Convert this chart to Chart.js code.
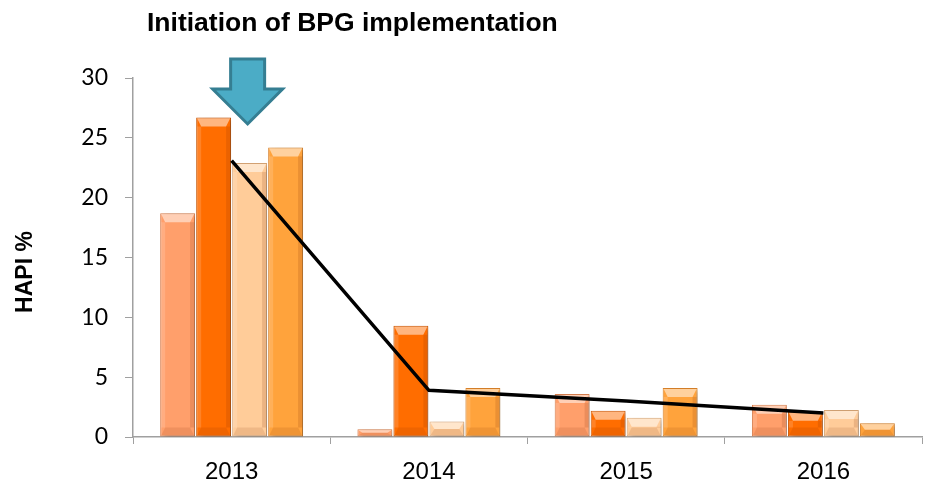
<!DOCTYPE html>
<html>
<head>
<meta charset="utf-8">
<script src="https://cdn.jsdelivr.net/npm/chart.js@4"></script>
<style>
  html, body { margin: 0; padding: 0; background: #fff; }
  #wrap { width: 928px; height: 485px; position: relative; }
</style>
</head>
<body>
<div id="wrap"><canvas id="c"></canvas></div>
<script>
const years = ['2013', '2014', '2015', '2016'];
const series1 = [18.7, 0.65, 3.6, 2.7];
const series2 = [26.7, 9.3, 2.2, 2.1];
const series3 = [22.9, 1.3, 1.6, 2.25];
const series4 = [24.2, 4.1, 4.1, 1.15];
const trend = [23.1, 3.9, 3.0, 2.0];
const yTicks = [0, 5, 10, 15, 20, 25, 30];

const titleText = 'Initiation of BPG implementation';
const yTitle = 'HAPI %';

const barFill = ['#FF9F6B', '#FF6D00', '#FFCC99', '#FFA33C'];
const barEdge = ['#D9804F', '#C95500', '#D9A777', '#D9822A'];

// shadow under the bars
const shadowPlugin = {
  id: 'barShadow',
  beforeDatasetDraw(chart, args) {
    if (args.meta.type !== 'bar') return;
    const ctx = chart.ctx;
    ctx.save();
    ctx.shadowColor = 'rgba(0,0,0,0.28)';
    ctx.shadowBlur = 5;
    ctx.shadowOffsetX = 3;
    ctx.shadowOffsetY = 2;
  },
  afterDatasetDraw(chart, args) {
    if (args.meta.type !== 'bar') return;
    chart.ctx.restore();
  }
};

// bevel look on every bar
const bevelPlugin = {
  id: 'bevel',
  afterDatasetDraw(chart, args) {
    if (args.meta.type !== 'bar') return;
    const ctx = chart.ctx;
    args.meta.data.forEach((bar) => {
      const p = bar.getProps(['x', 'y', 'base', 'width'], true);
      const l = p.x - p.width / 2, r = p.x + p.width / 2;
      const t = Math.min(p.y, p.base), b = Math.max(p.y, p.base);
      const h = b - t;
      const dt = Math.min(9, h / 2);
      const ds = Math.min(4, p.width / 4);
      ctx.save();
      // top
      ctx.fillStyle = 'rgba(255,255,255,0.5)';
      ctx.beginPath();
      ctx.moveTo(l + 1, t + 1); ctx.lineTo(r - 1, t + 1);
      ctx.lineTo(r - ds - 1, t + dt); ctx.lineTo(l + ds + 1, t + dt);
      ctx.closePath(); ctx.fill();
      // bottom
      ctx.fillStyle = 'rgba(120,40,0,0.12)';
      ctx.beginPath();
      ctx.moveTo(l + 1, b - 1); ctx.lineTo(r - 1, b - 1);
      ctx.lineTo(r - ds - 1, b - dt); ctx.lineTo(l + ds + 1, b - dt);
      ctx.closePath(); ctx.fill();
      // sides
      ctx.fillStyle = 'rgba(255,255,255,0.15)';
      ctx.fillRect(l + 1, t + dt, ds, h - 2 * dt);
      ctx.fillStyle = 'rgba(120,40,0,0.15)';
      ctx.fillRect(r - ds - 1, t + dt, ds, h - 2 * dt);
      ctx.restore();
    });
  }
};

// title, y title and the arrow
const extrasPlugin = {
  id: 'extras',
  afterDraw(chart) {
    const ctx = chart.ctx;
    const area = chart.chartArea;
    ctx.save();
    ctx.fillStyle = '#000';
    ctx.font = 'bold 26.5px "Liberation Sans", Arial, sans-serif';
    ctx.textBaseline = 'alphabetic';
    ctx.textAlign = 'left';
    ctx.fillText(titleText, 147, 31);

    ctx.translate(26, 272);
    ctx.rotate(-Math.PI / 2);
    ctx.textAlign = 'center';
    ctx.textBaseline = 'middle';
    ctx.font = 'bold 23px "Liberation Sans", Arial, sans-serif';
    ctx.fillText(yTitle, 0, 0);
    ctx.restore();

    // arrow pointing down at 2013
    const cx = chart.scales.x.getPixelForValue(0) + 16;
    const top = area.top - 19, neck = area.top + 11, tip = area.top + 46;
    ctx.save();
    ctx.beginPath();
    ctx.moveTo(cx - 17, top);
    ctx.lineTo(cx + 17, top);
    ctx.lineTo(cx + 17, neck);
    ctx.lineTo(cx + 35, neck);
    ctx.lineTo(cx, tip);
    ctx.lineTo(cx - 35, neck);
    ctx.lineTo(cx - 17, neck);
    ctx.closePath();
    ctx.fillStyle = '#4BACC6';
    ctx.fill();
    ctx.lineWidth = 3;
    ctx.strokeStyle = '#357E92';
    ctx.lineJoin = 'miter';
    ctx.stroke();
    ctx.restore();
  }
};

const barSets = [series1, series2, series3, series4].map((vals, i) => ({
  type: 'bar',
  label: 'Series ' + (i + 1),
  data: vals,
  backgroundColor: barFill[i],
  borderColor: barEdge[i],
  borderWidth: 1,
  borderSkipped: false,
  categoryPercentage: 0.73,
  barPercentage: 0.97,
  order: 2
}));

new Chart(document.getElementById('c'), {
  data: {
    labels: years,
    datasets: [
      ...barSets,
      {
        type: 'line',
        label: 'Trend',
        data: trend,
        borderColor: '#000',
        borderWidth: 3.5,
        pointRadius: 0,
        tension: 0,
        order: 1
      }
    ]
  },
  options: {
    responsive: true,
    maintainAspectRatio: false,
    animation: false,
    layout: { padding: { top: 78, right: 6, left: 0, bottom: 0 } },
    plugins: {
      legend: { display: false },
      title: { display: false },
      tooltip: { enabled: false }
    },
    scales: {
      x: {
        offset: true,
        grid: {
          offset: true,
          drawOnChartArea: false,
          drawTicks: true,
          tickLength: 7,
          color: '#A0A0A0'
        },
        border: { color: '#A0A0A0', width: 1.5 },
        ticks: {
          color: '#000',
          padding: 14,
          font: { family: '"Liberation Sans", Arial, sans-serif', size: 24 }
        },
        afterFit(s) { s.height = 48; }
      },
      y: {
        min: 0,
        max: 30,
        afterBuildTicks(s) { s.ticks = yTicks.map((v) => ({ value: v })); },
        grid: {
          drawOnChartArea: false,
          drawTicks: true,
          tickLength: 8,
          color: '#A0A0A0'
        },
        border: { color: '#A0A0A0', width: 1.5 },
        ticks: {
          color: '#000',
          padding: 17,
          font: { family: 'Lato, sans-serif', size: 23 }
        },
        afterFit(s) { s.width = 133; }
      }
    }
  },
  plugins: [shadowPlugin, bevelPlugin, extrasPlugin]
});
</script>
</body>
</html>
